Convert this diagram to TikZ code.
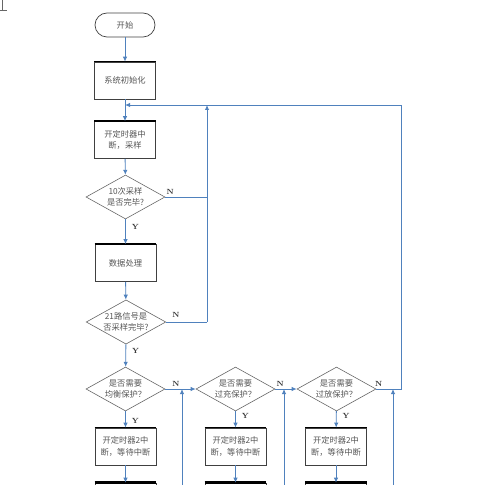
\documentclass[tikz,border=0pt]{standalone}
\usepackage{fontspec}
\newfontfamily\cjk{Noto Sans CJK SC}
\usetikzlibrary{shapes.geometric,arrows.meta}
\definecolor{lineblue}{RGB}{79,129,189}
\definecolor{txtgray}{RGB}{85,85,85}
\begin{document}
\begin{tikzpicture}[x=1bp,y=-1bp,
  every node/.style={inner sep=0pt},
  txt/.style={font=\cjk\fontsize{8.3}{11.5}\selectfont, text=txtgray, align=center},
  boxnode/.style={txt, draw=black!75, line width=0.7bp, minimum width=61bp, minimum height=37bp},
  termnode/.style={txt, draw=black!75, line width=0.7bp, rounded corners=12bp, minimum width=60bp, minimum height=24bp},
  decnode/.style={txt, diamond, aspect=1.8, draw=black!60, line width=0.6bp, minimum width=79bp, minimum height=44bp},
  flow/.style={draw=lineblue, line width=0.9bp},
  arr/.style={flow, -{Latex[length=5bp,width=4.5bp]}},
  yn/.style={font=\bfseries\fontsize{7.5}{8}\selectfont, text=black!80}
]
\clip (0,0) rectangle (500,485);
% small mark at top left
\draw[black!60, line width=0.8bp] (2.5,0) -- (2.5,10) (0,10) -- (7,10);

\node[termnode] (start) at (125,25) {开始};
\node[boxnode] (init) at (125,80.5) {系统初始化};
\node[boxnode] (timer) at (125,140) {开定时器中\\断，采样};
\node[decnode] (d1) at (125.5,197) {10次采样\\是否完毕?};
\node[boxnode] (proc) at (125.5,263) {数据处理};
\node[decnode] (d2) at (126,322) {21路信号是\\否采样完毕?};
\node[decnode] (d3) at (125.5,389) {是否需要\\均衡保护？};
\node[decnode] (d4) at (235.5,389) {是否需要\\过充保护？};
\node[decnode] (d5) at (336.5,389) {是否需要\\过放保护？};
\node[boxnode] (b1) at (125.5,446.5) {开定时器2中\\断，等待中断};
\node[boxnode] (b2) at (235.5,446.5) {开定时器2中\\断，等待中断};
\node[boxnode] (b3) at (336,446.5) {开定时器2中\\断，等待中断};
\node[boxnode] (c1) at (125.5,501.5) {};
\node[boxnode] (c2) at (235.5,501.5) {};
\node[boxnode] (c3) at (336,501.5) {};

\foreach \n in {init,timer,proc,b1,b2,b3}
  \draw[black, line width=1.6bp] (\n.north west) -- (\n.north east);
\foreach \n in {c1,c2,c3}
  \draw[black, line width=2.4bp] (\n.north west) -- (\n.north east);

\coordinate (j1) at (125,105);
\coordinate (r1) at (401,105);
\coordinate (r2) at (401,389);
\coordinate (m1) at (207,105);
\coordinate (m2) at (207,197);
\coordinate (m3) at (207,322);
\coordinate (u1) at (182,485);
\coordinate (u1t) at (182,389);
\coordinate (u2) at (284,485);
\coordinate (u2t) at (284,389);
\coordinate (u3) at (393,485);
\coordinate (u3t) at (393,389);

\draw[arr] (start) -- (init);
\draw[flow] (init) -- (j1);
\draw[arr] (j1) -- (timer);
\draw[arr] (timer) -- (d1);
\draw[arr] (d1) -- node[yn, pos=0.32, right=6bp] {Y} (proc);
\draw[arr] (proc) -- (d2);
\draw[arr] (d2) -- node[yn, pos=0.3, right=6bp] {Y} (d3);
\draw[arr] (d3) -- node[yn, pos=0.6, right=6bp] {Y} (b1);
\draw[arr] (d4) -- node[yn, pos=0.3, right=6bp] {Y} (b2);
\draw[arr] (d5) -- node[yn, pos=0.3, right=6bp] {Y} (b3);
\draw[arr] (b1) -- (c1);
\draw[arr] (b2) -- (c2);
\draw[arr] (b3) -- (c3);

\draw[flow] (d1.east) -- node[yn, pos=0.12, above=2bp] {N} (m2);
\draw[flow] (d2.east) -- node[yn, pos=0.24, above=4bp] {N} (m3);
\draw[arr] (m3) -- (m1);
\draw[arr] (d3.east) -- node[yn, pos=0.35, above=2bp] {N} (d4.west);
\draw[arr] (d4.east) -- node[yn, pos=0.23, above=2bp] {N} (d5.west);
\draw[flow] (d5.east) -- node[yn, pos=0.1, above=2bp] {N} (r2) -- (r1);
\draw[arr] (r1) -- (j1);
\draw[arr] (u1) -- (u1t);
\draw[arr] (u2) -- (u2t);
\draw[arr] (u3) -- (u3t);
\end{tikzpicture}
\end{document}
